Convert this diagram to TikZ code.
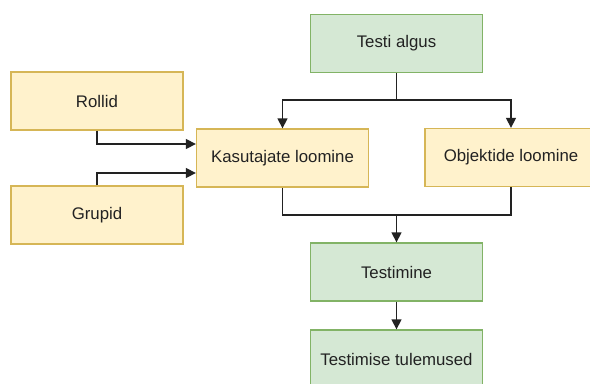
\documentclass[tikz,border=0pt]{standalone}
\usepackage{fontspec}
\setmainfont{Liberation Sans}
\usetikzlibrary{arrows.meta}
\definecolor{yfill}{HTML}{FFF2CC}
\definecolor{ydraw}{HTML}{D6B656}
\definecolor{gfill}{HTML}{D5E8D4}
\definecolor{gdraw}{HTML}{82B366}
\definecolor{txt}{HTML}{222222}
\definecolor{edge}{HTML}{222222}
\begin{document}
\begin{tikzpicture}[x=0.75pt,y=-0.75pt,
  box/.style={draw,line width=1pt,minimum width=129pt,minimum height=43.5pt,inner sep=0pt,
    font=\fontsize{12.6}{15}\selectfont,text=txt},
  ybox/.style={box,fill=yfill,draw=ydraw},
  gbox/.style={box,fill=gfill,draw=gdraw},
  conn/.style={draw=edge,line width=1.1pt},
  arr/.style={conn,-{Triangle[length=7.5pt,width=7.5pt]}}]
\useasboundingbox (0,0) rectangle (590,383);
\clip (0,0) rectangle (590,383);
\fill[white] (0,0) rectangle (590,383);
\node[gbox] (testi) at (396.5,43.5) {Testi algus};
\node[ybox] (kasut) at (282.5,158) {Kasutajate loomine};
\node[ybox] (objekt) at (511,157.5) {Objektide loomine};
\node[ybox] (rollid) at (97,101) {Rollid};
\node[ybox] (grupid) at (97,215) {Grupid};
\node[gbox] (testimine) at (396.5,272) {Testimine};
\node[gbox] (tulem) at (396.5,359) {Testimise tulemused};
\coordinate (split) at (396.5,100);
\coordinate (join) at (396.5,215);
\draw[conn] (testi.south) -- (split);
\draw[arr] (split) -| (kasut.north);
\draw[arr] (split) -| (objekt.north);
\draw[arr] (rollid.south) |- ([yshift=10.5pt]kasut.west);
\draw[arr] (grupid.north) |- ([yshift=-11.25pt]kasut.west);
\draw[conn] (kasut.south) |- (join);
\draw[conn] (objekt.south) |- (join);
\draw[arr] (join) -- (testimine.north);
\draw[arr] (testimine.south) -- (tulem.north);
\end{tikzpicture}
\end{document}
